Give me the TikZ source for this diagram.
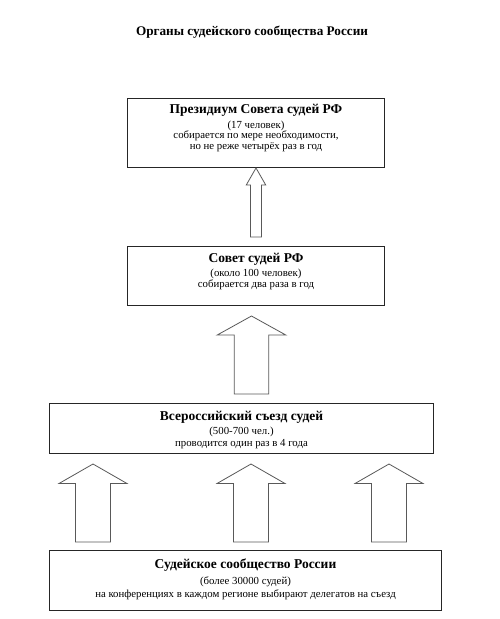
\documentclass[tikz,border=0pt]{standalone}
\usepackage{fontspec}
\setmainfont{Liberation Serif}
\usetikzlibrary{positioning}

\begin{document}
\begin{tikzpicture}[x=1pt, y=-1pt,
		box/.style={rectangle, draw=black!85, line width=1pt, fill=white, anchor=north west, inner sep=0pt},
		txt/.style={anchor=north, align=center, inner sep=0pt, font=\fontsize{10.8}{10.6}\selectfont},
		head/.style={font=\fontsize{13.2}{15}\selectfont\bfseries},
		blk/.style={draw=black!65, line width=0.8pt, fill=white, line join=miter},
		pics/blockarrow/.style n args={4}{code={
			\draw[blk] (0,0) -- (#2/2,#4) -- (#1/2,#4) -- (#1/2,#3) -- (-#1/2,#3) -- (-#1/2,#4) -- (-#2/2,#4) -- cycle;
		}}]
		
		\useasboundingbox (0,0) rectangle (500,619);
		
		% Заголовок
		\node[head] (title) at (252,32) {Органы судейского сообщества России};
		
		% Уровни (прямоугольники)
		\node[box, minimum width=257pt, minimum height=69pt] (presid) at (127,98) {};
		\node[box, minimum width=257pt, minimum height=59pt] (sovet) at (127,246) {};
		\node[box, minimum width=384pt, minimum height=50pt] (congress) at (49,403) {};
		\node[box, minimum width=392pt, minimum height=60pt] (community) at (49,550) {};
		
		% Тексты
		\node[txt] (presid_t) at ([yshift=-6.5pt]presid.north) {{\fontsize{13.5}{15}\selectfont\bfseries Президиум Совета судей РФ}\\[3.5pt]
			(17 человек)\\ собирается по мере необходимости,\\ но не реже четырёх раз в год};
		\node[txt] (sovet_t) at ([yshift=-7pt]sovet.north) {{\fontsize{13.5}{15}\selectfont\bfseries Совет судей РФ}\\[3.5pt]
			(около 100 человек)\\ собирается два раза в год};
		\node[txt] (congress_t) at ([yshift=-8pt]congress.north) {{\fontsize{13.5}{15}\selectfont\bfseries Всероссийский съезд судей}\\[3pt]
			(500-700 чел.)\\[2pt] проводится один раз в 4 года};
		\node[txt] (community_t) at ([yshift=-9pt]community.north) {{\fontsize{13.5}{15}\selectfont\bfseries Судейское сообщество России}\\[4pt]
			(более 30000 судей)\\[2pt] на конференциях в каждом регионе выбирают делегатов на съезд};
		
		% Стрелки
		\pic at (presid.south) {blockarrow={11}{19.5}{69}{17}};
		\pic at ([xshift=-4.5pt,yshift=-10pt]sovet.south) {blockarrow={34.5}{68.5}{78}{19}};
		\pic at ([xshift=44pt,yshift=-10pt]congress.south west) {blockarrow={35}{68}{78}{19.5}};
		\pic at ([xshift=202pt,yshift=-10pt]congress.south west) {blockarrow={35}{68}{78}{19.5}};
		\pic at ([xshift=340pt,yshift=-10pt]congress.south west) {blockarrow={35}{68}{78}{19.5}};
	\end{tikzpicture}
\end{document}
